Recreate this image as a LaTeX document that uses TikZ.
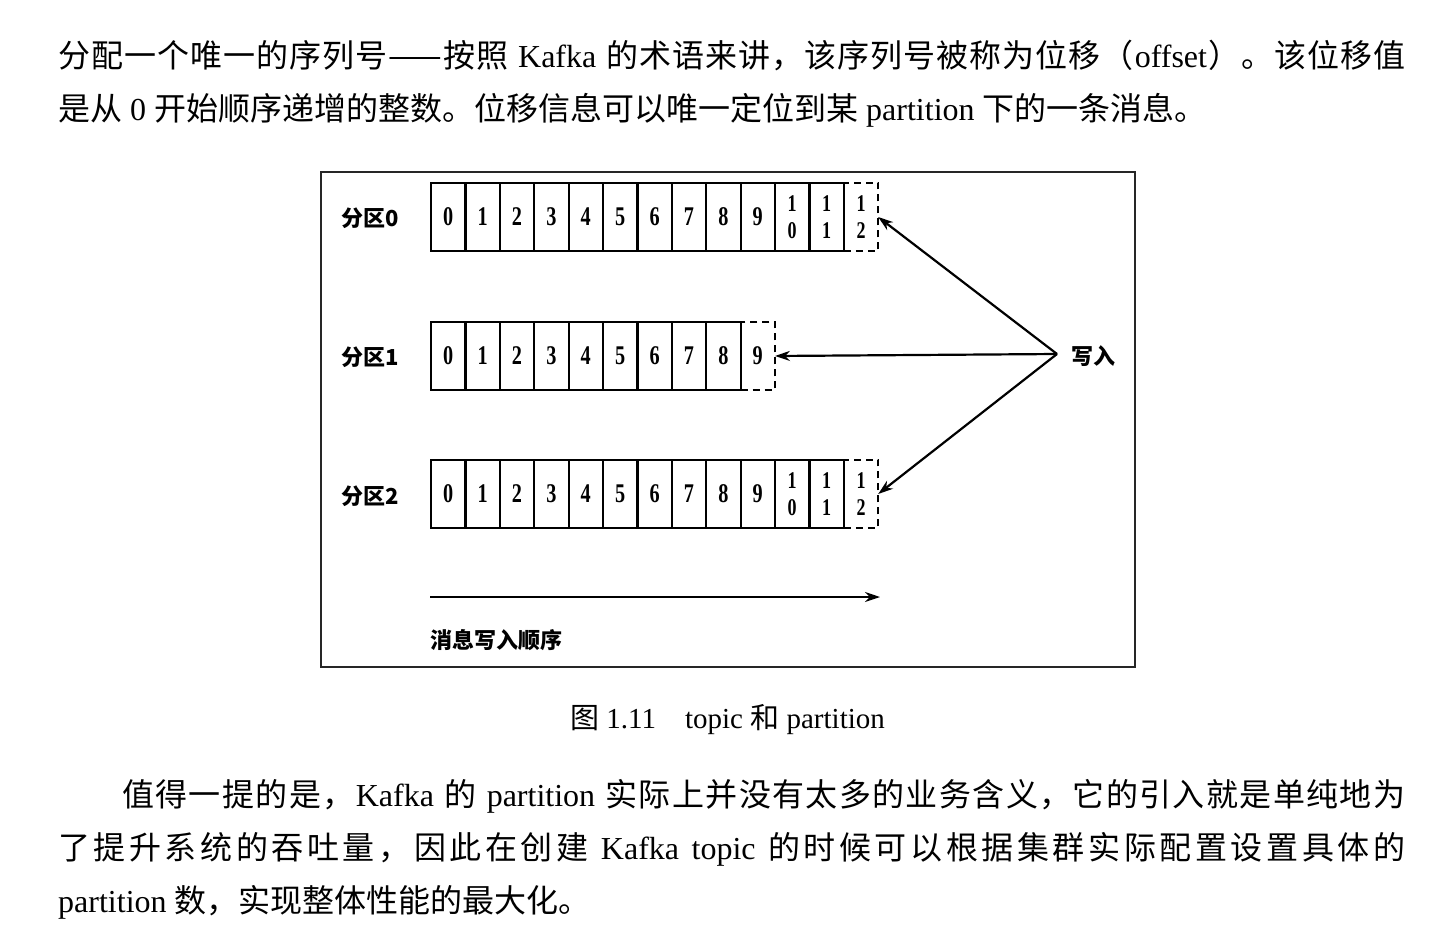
\documentclass[tikz,border=0pt]{standalone}
\usepackage{fontspec}
\setmainfont{Liberation Serif}
\newfontfamily\cjk{Noto Sans CJK SC}
\newfontfamily\digf[FakeStretch=0.75]{Liberation Serif}
\usetikzlibrary{arrows.meta}
% spread CJK characters with stretchable glue between them
\def\zs#1{{\cjk\zsB#1\relax}}
\def\zsB#1{#1\zsA}
\def\zsA#1{\ifx#1\relax\else\hskip0pt plus1fil\relax#1\expandafter\zsA\fi}
\def\jg{\hskip0pt plus1fil\relax}
\def\jsp{\hskip9pt plus1fil\relax}
\begin{document}
\begin{tikzpicture}[x=1pt,y=-1pt,
 cell/.style={draw, line width=2.2pt, minimum width=34.4pt, minimum height=68pt, inner sep=0pt, outer sep=0pt, font=\digf\bfseries\fontsize{27}{27}\selectfont, align=center},
 scell/.style={cell, font=\digf\bfseries\fontsize{24}{27}\selectfont},
 dcell/.style={scell, dash pattern=on 7pt off 5pt},
 plab/.style={font=\cjk\bfseries\fontsize{22}{22}\selectfont, inner sep=0pt},
 arr/.style={line width=2.2pt, -{Stealth[length=15pt,width=10pt]}},
 body/.style={anchor=base west, inner sep=0pt, font=\fontsize{32}{38}\selectfont}
]
\useasboundingbox[fill=white] (0,0) rectangle (1446,932);

% body text above
\node[body] (t1) at (58,67) {\hbox to 1347pt{\zs{分配一个唯一的序列号}\jg{\cjk ——}\jg\zs{按照}\jsp Kafka\jsp\zs{的术语来讲，该序列号被称为位移（}\jg offset\jg\zs{）。该位移值}}};
\node[body] (t2) at (58,120) {{\cjk 是从} 0 {\cjk 开始顺序递增的整数。位移信息可以唯一定位到某} partition {\cjk 下的一条消息。}};

% frame
\draw[line width=2pt, black!85] (321,172) rectangle (1135,667);

% row 0
\node[dcell] (a12) at ({448.2+12*34.4},217) {1\\2};
\foreach \i in {0,...,9}
  \node[cell] (a\i) at ({448.2+\i*34.4},217) {\i};
\node[scell] (a10) at ({448.2+10*34.4},217) {1\\0};
\node[scell] (a11) at ({448.2+11*34.4},217) {1\\1};
\node[plab, anchor=west] (l0) at (341,218) {分区0};

% row 1
\node[dcell, font=\digf\bfseries\fontsize{27}{27}\selectfont] (b9) at ({448.2+9*34.4},356) {9};
\foreach \i in {0,...,8}
  \node[cell] (b\i) at ({448.2+\i*34.4},356) {\i};
\node[plab, anchor=west] (l1) at (341,357) {分区1};

% row 2
\node[dcell] (c12) at ({448.2+12*34.4},494) {1\\2};
\foreach \i in {0,...,9}
  \node[cell] (c\i) at ({448.2+\i*34.4},494) {\i};
\node[scell] (c10) at ({448.2+10*34.4},494) {1\\0};
\node[scell] (c11) at ({448.2+11*34.4},494) {1\\1};
\node[plab, anchor=west] (l2) at (341,496) {分区2};

% write arrows
\node[plab, anchor=west] (wr) at (1071,356) {写入};
\coordinate (w) at (1057,354);
\draw[arr] (w) -- (a12.east);
\draw[arr] (w) -- (b9.east);
\draw[arr] (w) -- (c12.east);

% order arrow
\coordinate (os) at (430,597);
\coordinate (oe) at (880,597);
\draw[arr] (os) -- (oe);
\node[plab, anchor=west] (ord) at (430,640) {消息写入顺序};

% caption
\node[anchor=base west, inner sep=0pt, font=\fontsize{29}{32}\selectfont] (cap) at (570,728) {{\cjk 图} 1.11\hspace{29pt}topic {\cjk 和} partition};

% body text below
\node[body] (t3) at (122,806) {\hbox to 1283pt{\zs{值得一提的是，}\jg Kafka\jsp\zs{的}\jsp partition\jsp\zs{实际上并没有太多的业务含义，它的引入就是单纯地为}}};
\node[body] (t4) at (58,859) {\hbox to 1347pt{\zs{了提升系统的吞吐量，因此在创建}\jsp Kafka\jsp topic\jsp\zs{的时候可以根据集群实际配置设置具体的}}};
\node[body] (t5) at (58,912) {partition {\cjk 数，实现整体性能的最大化。}};
\end{tikzpicture}
\end{document}
